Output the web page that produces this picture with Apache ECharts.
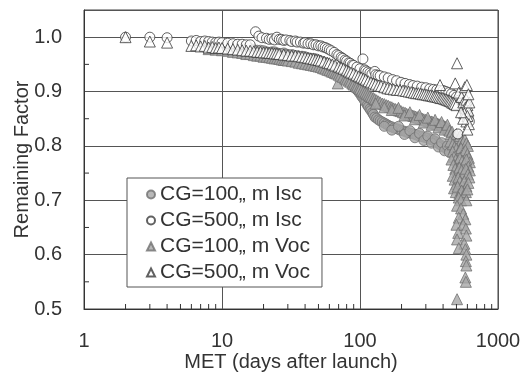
<!DOCTYPE html>
<html>
<head>
<meta charset="utf-8">
<script src="https://cdn.jsdelivr.net/npm/echarts@6/dist/echarts.min.js"></script>
<style>
  html, body { margin: 0; padding: 0; background: #fff; }
  #chart { width: 524px; height: 374px; }
</style>
</head>
<body>
<div id="chart"></div>
<script>
// [MET day, remaining factor]
const cg100Isc = [
  [8,0.988],[9,0.986],[10,0.985],[11,0.983],[12,0.982],[13,0.983],[14,0.980],[15,0.978],[16,0.979],
  [17,0.977],[18,0.976],[19,0.976],[20,0.975],[21,0.973],[22,0.972],[23,0.973],[24,0.973],[25,0.971],
  [26,0.970],[27,0.970],[28,0.971],[29,0.969],[30,0.968],[32,0.968],[33,0.967],[35,0.966],[36,0.965],
  [38,0.965],[40,0.964],[42,0.962],[44,0.961],[46,0.961],[48,0.960],[50,0.958],[52,0.956],[54,0.955],
  [56,0.953],[58,0.951],[60,0.949],[62,0.947],[64,0.945],[66,0.943],[68,0.940],[70,0.938],[72,0.935],
  [74,0.932],[76,0.929],[78,0.927],[80,0.924],[83,0.920],[85,0.917],[88,0.913],[90,0.910],[93,0.906],
  [95,0.903],[98,0.899],[100,0.896],[103,0.891],[105,0.888],[108,0.883],[110,0.880],[113,0.875],
  [115,0.872],[118,0.868],[120,0.865],[123,0.861],[125,0.858],[128,0.853],[132,0.851],[136,0.848],
  [140,0.846],[145,0.844],[150,0.842],[155,0.840],[160,0.838],[165,0.836],[170,0.835],[176,0.833],
  [182,0.832],[188,0.831],[195,0.829],[202,0.828],[210,0.827],[218,0.825],[226,0.824],[235,0.823],
  [244,0.822],[253,0.821],[262,0.819],[272,0.818],[282,0.817],[292,0.816],[302,0.815],[312,0.814],
  [322,0.812],[332,0.811],[342,0.810],[352,0.808],[362,0.806],[372,0.804],[382,0.802],[392,0.800],
  [402,0.799],[412,0.797],[422,0.795],[432,0.794],[442,0.795],
  [150,0.836],[170,0.829],[190,0.836],[210,0.821],[230,0.828],[250,0.815],[270,0.823],[290,0.810],
  [310,0.818],[330,0.805],[350,0.813],[370,0.798],[390,0.806],[410,0.791],[430,0.800],[445,0.788]
];

const cg500Isc = [
  [2,1.000],[3,1.000],[4,0.999],[6,0.993],[6.5,0.994],[7,0.992],[7.5,0.993],[8,0.992],[8.5,0.991],
  [9,0.990],[9.5,0.991],[10,0.990],[11,0.989],[12,0.988],[13,0.987],[14,0.987],[15,0.986],[16,0.986],
  [17.5,1.010],[18.5,1.002],[19.5,0.999],[21,0.998],[22,0.996],[23,0.997],[24,0.995],[25,1.000],
  [26,0.996],[27,0.996],[28,0.994],[29,0.995],[31,0.994],[32,0.992],[34,0.993],[35,0.991],[37,0.991],
  [39,0.989],[40,0.990],[42,0.988],[44,0.988],[46,0.986],[48,0.986],[50,0.984],[52,0.984],[54,0.982],
  [56,0.981],[58,0.979],[60,0.977],[62,0.975],[65,0.972],[68,0.968],[70,0.966],[73,0.963],[75,0.961],
  [78,0.958],[80,0.956],[83,0.953],[85,0.952],[88,0.949],[90,0.948],[95,0.945],[100,0.942],[105,0.960],
  [108,0.940],[110,0.938],[114,0.936],[118,0.934],[122,0.932],[128,0.937],[130,0.931],[135,0.930],
  [140,0.929],[150,0.927],[160,0.925],[172,0.922],[184,0.920],[198,0.917],[212,0.915],[228,0.913],
  [242,0.911],[260,0.910],[280,0.908],[300,0.907],[320,0.905],[340,0.904],[360,0.903],[380,0.902],
  [400,0.902],[420,0.900],[440,0.898],[460,0.896],[480,0.893],[500,0.890],[512,0.822],[520,0.884],
  [530,0.878],[540,0.874],[550,0.870],[560,0.868],[570,0.865],[580,0.862],[590,0.860],[600,0.857],
  [610,0.850],[620,0.845]
];

const cg100Voc = [
  [8,0.978],[9,0.977],[10,0.976],[11,0.975],[12,0.973],[13,0.972],[14,0.971],[15,0.969],[16,0.969],
  [17,0.967],[18,0.966],[19,0.966],[20,0.964],[21,0.964],[22,0.963],[23,0.962],[24,0.961],[25,0.961],
  [26,0.960],[27,0.959],[28,0.958],[29,0.958],[30,0.957],[32,0.956],[34,0.955],[36,0.953],[38,0.952],
  [40,0.951],[42,0.950],[44,0.949],[46,0.948],[48,0.947],[50,0.946],[52,0.945],[54,0.943],[56,0.942],
  [58,0.940],[60,0.939],[62,0.937],[64,0.936],[66,0.934],[69,0.915],[68,0.933],[70,0.931],[72,0.929],
  [75,0.927],[78,0.924],[80,0.922],[83,0.920],[85,0.918],[88,0.915],[90,0.913],[93,0.911],[95,0.909],
  [98,0.907],[100,0.905],[103,0.902],[106,0.900],[109,0.898],[112,0.896],[115,0.894],[118,0.892],
  [121,0.890],[125,0.888],[128,0.886],[132,0.884],[136,0.882],[140,0.880],[145,0.878],[150,0.877],
  [155,0.875],[160,0.874],[165,0.872],[170,0.871],[175,0.869],[180,0.868],[186,0.867],[192,0.865],
  [198,0.864],[205,0.862],[212,0.861],[218,0.859],[225,0.858],[232,0.857],[240,0.856],[246,0.855],
  [253,0.854],[260,0.853],[268,0.852],[275,0.851],[283,0.850],[290,0.849],[298,0.848],[305,0.847],
  [313,0.846],[320,0.845],[328,0.845],[335,0.844],[343,0.843],[350,0.842],[358,0.841],[365,0.841],
  [373,0.840],[380,0.839],[388,0.838],[395,0.838],[403,0.837],[410,0.836],[418,0.835],[425,0.834],
  [433,0.832],[440,0.830],
  [130,0.878],[150,0.871],[170,0.866],[190,0.870],[210,0.856],[230,0.862],[250,0.849],[270,0.857],
  [290,0.843],[310,0.852],[330,0.839],[350,0.848],[370,0.834],[390,0.844],[410,0.830],[430,0.839],
  [445,0.828],[455,0.822],[465,0.826],[475,0.818],[490,0.815],[500,0.822],[515,0.812],[530,0.818],
  [545,0.810],[560,0.806],[575,0.812],[590,0.805],[605,0.800],[450,0.808],[470,0.803],[485,0.798],
  [500,0.795],[520,0.790],[540,0.796],[560,0.788],[580,0.792],[600,0.785],[615,0.778],[625,0.770],
  [470,0.790],[480,0.780],[495,0.775],[510,0.770],[530,0.778],[550,0.772],[570,0.768],[590,0.775],
  [610,0.762],[625,0.755],[460,0.775],[475,0.765],[490,0.758],[505,0.752],[525,0.760],[545,0.755],
  [565,0.750],[585,0.758],[605,0.748],[620,0.742],[470,0.745],[485,0.738],[500,0.730],[515,0.742],
  [530,0.735],[550,0.728],[570,0.735],[590,0.726],[610,0.732],[480,0.722],[495,0.715],[510,0.725],
  [525,0.712],[545,0.718],[565,0.710],[585,0.715],[600,0.720],[520,0.705],[540,0.700],[590,0.700],
  [505,0.690],[540,0.685],[560,0.675],[520,0.668],[580,0.665],[500,0.655],[560,0.655],[585,0.648],
  [515,0.640],[590,0.635],[505,0.628],[570,0.620],[520,0.612],[580,0.610],[590,0.600],[585,0.588],
  [590,0.580],[580,0.558],[585,0.550],[505,0.518]
];

const cg500Voc = [
  [2,1.000],[3,0.992],[4,0.990],[6,0.984],[6.5,0.985],[7,0.983],[7.5,0.984],[8,0.981],[8.5,0.982],
  [9,0.980],[9.5,0.981],[10,0.980],[11,0.979],[12,0.978],[13,0.977],[14,0.976],[15,0.975],[16,0.975],
  [17,0.974],[18,0.973],[19,0.973],[20,0.972],[21,0.972],[22,0.971],[23,0.971],[24,0.970],[25,0.970],
  [26,0.969],[28,0.968],[30,0.967],[32,0.966],[34,0.966],[36,0.965],[38,0.964],[40,0.963],[42,0.962],
  [44,0.961],[46,0.960],[48,0.959],[50,0.958],[52,0.957],[55,0.955],[58,0.953],[60,0.952],[63,0.950],
  [66,0.948],[70,0.946],[73,0.944],[76,0.942],[80,0.939],[83,0.937],[86,0.935],[90,0.933],[94,0.930],
  [98,0.928],[102,0.926],[106,0.924],[110,0.922],[115,0.919],[120,0.917],[125,0.915],[130,0.913],
  [136,0.911],[142,0.910],[150,0.908],[158,0.906],[166,0.905],[175,0.904],[185,0.903],[195,0.903],
  [205,0.902],[215,0.901],[225,0.900],[235,0.899],[245,0.898],[255,0.897],[265,0.897],[275,0.896],
  [285,0.895],[295,0.895],[305,0.894],[315,0.893],[325,0.893],[335,0.892],[345,0.891],[355,0.891],
  [365,0.890],[375,0.889],[380,0.912],[385,0.888],[395,0.888],[405,0.887],[415,0.886],[425,0.885],
  [435,0.884],[445,0.883],[455,0.882],[465,0.880],[475,0.879],[485,0.877],[490,0.915],[500,0.875],
  [505,0.952],[520,0.898],[545,0.890],[575,0.908],[595,0.912],[560,0.880],[590,0.885],[600,0.875],
  [580,0.870],[610,0.865],[570,0.860],[600,0.855],[590,0.845],[615,0.840],[600,0.830],[560,0.850],
  [540,0.862],[620,0.880],[610,0.895]
];

const xMinorTicks = [2,3,4,5,6,7,8,9,20,30,40,50,60,70,80,90,200,300,400,500,600,700,800,900];
const yMinorTicks = [0.55,0.65,0.75,0.85,0.95];

const legendNames = ['CG=100„ m Isc', 'CG=500„ m Isc', 'CG=100„ m Voc', 'CG=500„ m Voc'];

const font = 'Liberation Sans, Arial, sans-serif';
const filled = { color: '#a6a6a6', borderColor: '#707070', borderWidth: 1 };
const hollow = { color: '#ffffff', borderColor: '#3a3a3a', borderWidth: 1 };

const chart = echarts.init(document.getElementById('chart'));

const tickSeries = (data, vertical) => ({
  type: 'custom',
  silent: true,
  clip: false,
  z: 5,
  data: data,
  renderItem: function (params, api) {
    const p = api.coord([api.value(0), api.value(1)]);
    return {
      type: 'line',
      shape: vertical
        ? { x1: p[0], y1: p[1], x2: p[0], y2: p[1] - 5 }
        : { x1: p[0], y1: p[1], x2: p[0] + 5, y2: p[1] },
      style: { stroke: '#333', lineWidth: 1 }
    };
  }
});

chart.setOption({
  backgroundColor: '#fff',
  animation: false,
  grid: {
    left: 84, right: 26, top: 10, bottom: 65,
    outerBoundsMode: 'none',
    containLabel: false,
    show: true, borderColor: '#444', borderWidth: 1
  },
  legend: {
    data: legendNames,
    orient: 'vertical',
    left: 127,
    top: 178,
    padding: [6, 12, 4, 19],
    itemGap: 5,
    itemWidth: 8,
    itemHeight: 8,
    backgroundColor: '#fff',
    borderColor: '#555',
    borderWidth: 1,
    borderRadius: 0,
    textStyle: { fontFamily: font, fontSize: 21, color: '#333', lineHeight: 18 },
    z: 10
  },
  xAxis: {
    type: 'log',
    logBase: 10,
    min: 1,
    max: 1000,
    name: 'MET (days after launch)',
    nameLocation: 'middle',
    nameMoveOverlap: false,
    nameGap: 43,
    nameTextStyle: { fontFamily: font, fontSize: 20, color: '#333' },
    axisLine: { lineStyle: { color: '#333' } },
    axisTick: { show: false },
    axisLabel: { fontFamily: font, fontSize: 20, color: '#333', margin: 22, formatter: v => String(v) },
    splitLine: { show: true, lineStyle: { color: '#555', width: 1 } }
  },
  yAxis: {
    type: 'value',
    min: 0.5,
    max: 1.05,
    interval: 0.1,
    name: 'Remaining Factor',
    nameLocation: 'middle',
    nameMoveOverlap: false,
    nameGap: 52,
    nameTextStyle: { fontFamily: font, fontSize: 20, color: '#333' },
    axisLine: { show: true, lineStyle: { color: '#333' } },
    axisTick: { show: false },
    axisLabel: {
      fontFamily: font, fontSize: 20, color: '#333', margin: 22,
      showMaxLabel: false,
      formatter: v => v.toFixed(1)
    },
    splitLine: { show: true, lineStyle: { color: '#555', width: 1 } }
  },
  series: [
    { name: legendNames[0], type: 'scatter', symbol: 'circle', symbolSize: 10, itemStyle: filled, data: cg100Isc, z: 2 },
    { name: legendNames[2], type: 'scatter', symbol: 'triangle', symbolSize: 11, itemStyle: filled, data: cg100Voc, z: 2 },
    { name: legendNames[1], type: 'scatter', symbol: 'circle', symbolSize: 10, itemStyle: hollow, data: cg500Isc, z: 3 },
    { name: legendNames[3], type: 'scatter', symbol: 'triangle', symbolSize: 11, itemStyle: hollow, data: cg500Voc, z: 3 },
    tickSeries(xMinorTicks.map(d => [d, 0.5]), true),
    tickSeries(yMinorTicks.map(v => [1, v]), false)
  ]
});
</script>
</body>
</html>
